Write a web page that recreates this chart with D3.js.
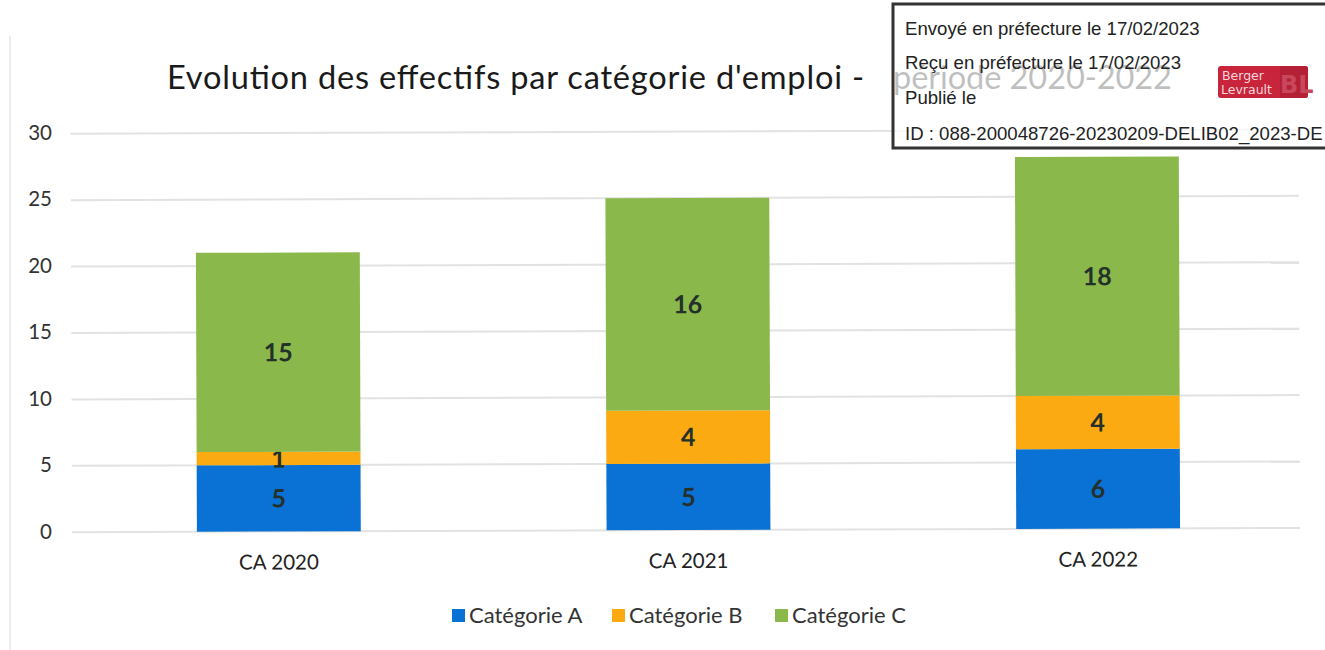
<!DOCTYPE html>
<html>
<head>
<meta charset="utf-8">
<script src="https://cdn.jsdelivr.net/npm/d3@7"></script>
<style>
  body { margin: 0; background: #fff; }
  svg { display: block; }
</style>
</head>
<body>
<svg id="chart" width="1325" height="650"></svg>
<script>
// data
const years = ['CA 2020', 'CA 2021', 'CA 2022'];
const seriesNames = ['Catégorie A', 'Catégorie B', 'Catégorie C'];
const catA = [5, 5, 6];
const catB = [1, 4, 4];
const catC = [15, 16, 18];
const yTicks = [0, 5, 10, 15, 20, 25, 30];
const colors = ['#0a72d4', '#fbaa12', '#8ab84b'];

const stampLines = [
  'Envoyé en préfecture le 17/02/2023',
  'Reçu en préfecture le 17/02/2023',
  'Publié le',
  'ID : 088-200048726-20230209-DELIB02_2023-DE'
];

const svg = d3.select('#chart');
const font = 'Lato, "Open Sans", sans-serif';

const rows = years.map((y, i) => ({
  year: y,
  'Catégorie A': catA[i],
  'Catégorie B': catB[i],
  'Catégorie C': catC[i]
}));
const stacked = d3.stack().keys(seriesNames)(rows);

const x = d3.scaleBand().domain(years).range([74, 1303]).paddingInner(0.6).paddingOuter(0.3);
const y = d3.scaleLinear().domain([0, 30]).range([531.5, 133]);
const color = d3.scaleOrdinal().domain(seriesNames).range(colors);

// faint frame of the scanned chart
svg.append('line')
  .attr('x1', 10).attr('x2', 10).attr('y1', 36).attr('y2', 650)
  .attr('stroke', '#ececec').attr('stroke-width', 2);

// title (second half sits under the stamp)
const title = svg.append('g')
  .attr('font-family', font).attr('font-size', 32.6)
  .attr('fill', '#1a1a1a');
title.append('text')
  .attr('x', 167).attr('y', 89)
  .attr('textLength', 697).attr('lengthAdjust', 'spacing')
  .text("Evolution des effectifs par catégorie d'emploi -");
title.append('text')
  .attr('x', 893).attr('y', 89)
  .attr('textLength', 279).attr('lengthAdjust', 'spacing')
  .text('période 2020-2022');

// the scan is tilted a little
const plot = svg.append('g').attr('transform', 'rotate(-0.2 279 531)');

// gridlines
plot.append('g')
  .selectAll('line').data(yTicks).join('line')
  .attr('x1', 72).attr('x2', 1300)
  .attr('y1', d => y(d)).attr('y2', d => y(d))
  .attr('stroke', '#e2e2e2').attr('stroke-width', 2);

// y axis labels
const yAxis = svg.append('g')
  .attr('transform', 'translate(52,0)')
  .call(d3.axisLeft(y).tickValues(yTicks).tickSize(0).tickPadding(0));
yAxis.select('.domain').remove();
yAxis.selectAll('text')
  .attr('font-family', font).attr('font-size', 20.5).attr('fill', '#333');

// bars
const layers = plot.append('g')
  .selectAll('g').data(stacked).join('g')
  .attr('fill', d => color(d.key));

layers.selectAll('rect').data(d => d).join('rect')
  .attr('x', d => x(d.data.year))
  .attr('width', x.bandwidth())
  .attr('y', d => y(d[1]))
  .attr('height', d => y(d[0]) - y(d[1]));

// value labels
layers.selectAll('text').data(d => d).join('text')
  .attr('x', d => x(d.data.year) + x.bandwidth() / 2)
  .attr('y', d => (y(d[0]) + y(d[1])) / 2 + 9)
  .attr('text-anchor', 'middle')
  .attr('font-family', font).attr('font-weight', 'bold').attr('font-size', 25)
  .attr('fill', '#24302a')
  .text(d => d[1] - d[0]);

// x axis labels
const xAxis = plot.append('g')
  .attr('transform', 'translate(0,551)')
  .call(d3.axisBottom(x).tickSize(0).tickPadding(0));
xAxis.select('.domain').remove();
xAxis.selectAll('text')
  .attr('dy', '0.9em')
  .attr('font-family', font).attr('font-size', 20.5).attr('fill', '#222');

// legend
const legendX = [452, 612, 775];
const legend = svg.append('g')
  .selectAll('g').data(seriesNames).join('g')
  .attr('transform', (d, i) => `translate(${legendX[i]},609)`);
legend.append('rect')
  .attr('width', 13).attr('height', 13)
  .attr('fill', d => color(d));
legend.append('text')
  .attr('x', 17).attr('y', 14)
  .attr('font-family', font).attr('font-size', 22).attr('fill', '#333')
  .text(d => d);

// prefecture stamp over the top right corner
const stamp = svg.append('g');
stamp.append('rect')
  .attr('x', 893).attr('y', 4).attr('width', 440).attr('height', 144)
  .attr('fill', '#fff').attr('fill-opacity', 0.72)
  .attr('stroke', '#333').attr('stroke-width', 3);
stamp.selectAll('text.line').data(stampLines).join('text')
  .attr('class', 'line')
  .attr('x', 905)
  .attr('y', (d, i) => [35, 69, 104, 140][i])
  .attr('font-family', '"Liberation Sans", Arial, sans-serif')
  .attr('font-size', 18.6).attr('fill', '#222')
  .text(d => d);

// Berger Levrault logo
const logo = stamp.append('g').attr('transform', 'translate(1218,66)');
logo.append('rect').attr('width', 90).attr('height', 32).attr('rx', 3).attr('fill', '#c8243b');
logo.append('rect').attr('x', 62).attr('width', 28).attr('height', 32).attr('rx', 3).attr('fill', '#b42035');
logo.append('text').attr('x', 4).attr('y', 14)
  .attr('font-family', '"DejaVu Sans", sans-serif').attr('font-size', 12.5).attr('fill', '#f4d6da')
  .text('Berger');
logo.append('text').attr('x', 3).attr('y', 28)
  .attr('font-family', '"DejaVu Sans", sans-serif').attr('font-size', 12.5).attr('fill', '#f4d6da')
  .text('Levrault');
logo.append('text').attr('x', 62).attr('y', 27)
  .attr('font-family', '"DejaVu Sans", sans-serif').attr('font-weight', 'bold').attr('font-size', 24).attr('fill', '#c9475a')
  .text('BL');
</script>
</body>
</html>
